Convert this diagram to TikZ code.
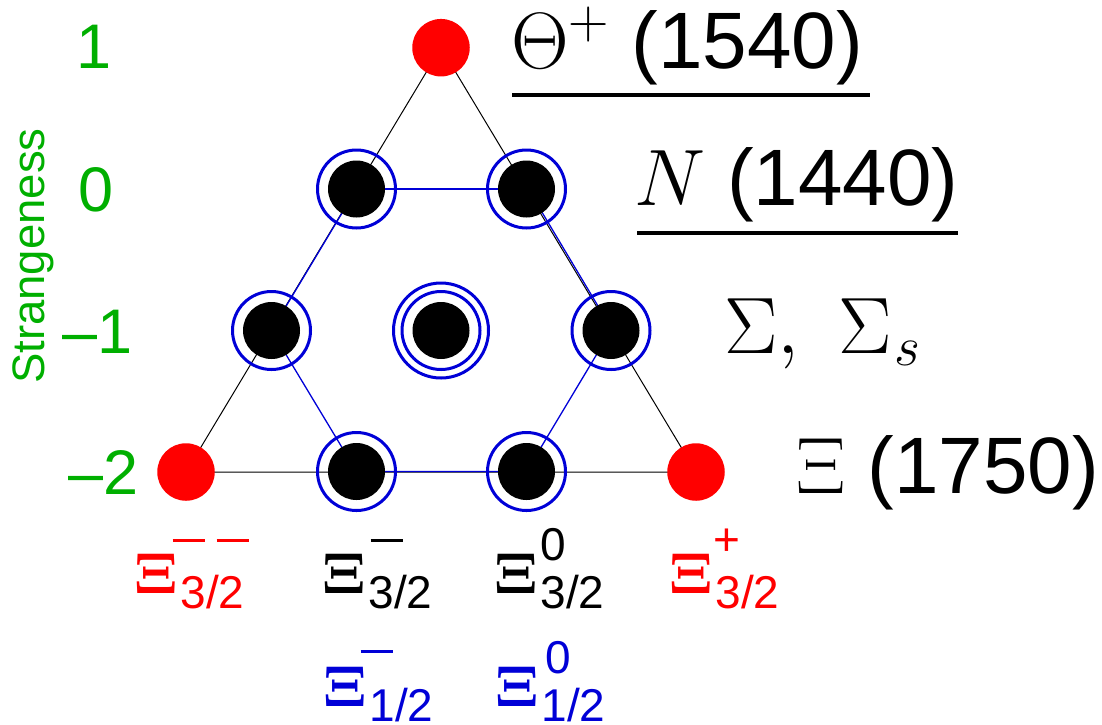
\RequirePackage{fix-cm}
\documentclass[tikz,border=0pt]{standalone}
\usepackage[no-math]{fontspec}
\setmainfont{Liberation Sans}
\usetikzlibrary{backgrounds}
\definecolor{sgreen}{RGB}{0,175,0}
\definecolor{rblue}{RGB}{0,0,215}
\newcommand\xisym{{\fontsize{58}{60}\selectfont$\mathbf{\Xi}$}}
\newcommand\scr[1]{{\fontsize{46}{48}\selectfont #1}}
% #1 kern after Xi, #2 superscript material, #3 subscript
\newcommand\xilab[3]{\xisym\kern#1\rlap{#2}\raisebox{-15pt}{\scr{#3}}}
\newcommand\mbar[1]{\rule[#1]{32pt}{3pt}}
\begin{document}
\begin{tikzpicture}[x=1pt,y=-1pt,
  every node/.style={inner sep=0pt,outer sep=0pt},
  reddot/.style={circle, fill=red, minimum size=57.5pt},
  blackdot/.style={circle, fill=black, minimum size=57pt},
  ring/.style={circle, draw=rblue, line width=3pt, minimum size=78pt},
  bigring/.style={ring, minimum size=95pt},
  tri/.style={draw=black, line width=1pt},
  hexl/.style={draw=rblue, line width=1.3pt},
  biglab/.style={font=\fontsize{80}{96}\selectfont, anchor=base west},
  snum/.style={text=sgreen, font=\fontsize{63}{70}\selectfont, anchor=base},
  xil/.style={anchor=base west}
]
\useasboundingbox (0,0) rectangle (1102,724);

% dots
\node[reddot] (th) at (441,47.7) {};
\node[ring] (sar) at (356.5,189) {};
\node[blackdot] (sa) at (356.5,189) {};
\node[ring] (sbr) at (526.5,189) {};
\node[blackdot] (sb) at (526.5,189) {};
\node[ring] (mar) at (271.5,330.5) {};
\node[blackdot] (ma) at (271.5,330.5) {};
\node[ring] (mcr) at (441,330.5) {};
\node[bigring] (mcrr) at (441,330.5) {};
\node[blackdot] (mc) at (441,330.5) {};
\node[ring] (mbr) at (611,330.5) {};
\node[blackdot] (mb) at (611,330.5) {};
\node[reddot] (xl) at (186,472) {};
\node[ring] (xar) at (356.5,471.5) {};
\node[blackdot] (xa) at (356.5,471.5) {};
\node[ring] (xbr) at (526.5,471.5) {};
\node[blackdot] (xb) at (526.5,471.5) {};
\node[reddot] (xr) at (696,472) {};

\begin{scope}[on background layer]
  \draw[tri] (th.center) -- (xl.center) -- (xr.center) -- cycle;
  \draw[hexl] (sa.center) -- (sb.center);
  \draw[hexl] ([xshift=1.6pt]sb.center) -- ([xshift=1.6pt]mb.center);
  \draw[hexl] (mb.center) -- (xb.center) -- (xa.center) -- (ma.center) -- (sa.center);
\end{scope}

% strangeness axis
\node[rotate=90, anchor=base, text=sgreen, font=\fontsize{45.5}{50}\selectfont] (slab) at (44,256) {Strangeness};
\node[snum] (s1) at (94,68) {1};
\node[snum] (s0) at (96,211) {0};
\node[snum] (sm1) at (98,353) {--1};
\node[snum] (sm2) at (104,494) {--2};

% multiplet labels
\node[biglab] (lth) at (511,68) {$\Theta^+$ (1540)};
\draw[line width=3.5pt] (512,95) -- (870,95);
\node[biglab] (lN) at (634,205) {$N$ (1440)};
\draw[line width=3.5pt] (637,233) -- (958,233);
\node[biglab] (lsig) at (724,353) {$\Sigma,\ \kern4pt\Sigma_{\kern2pt s}$};
\node[biglab] (lxi) at (796,493) {$\Xi$ (1750)};

% Xi labels
\node[xil, text=red] (q1) at (134,593) {\xilab{3pt}{\kern-8pt\mbar{51.5pt}\kern12pt\mbar{51.5pt}}{3/2}};
\node[xil, text=black] (q2) at (322,593) {\xilab{3pt}{\kern2pt\mbar{51.5pt}}{3/2}};
\node[xil, text=black] (q3) at (494,593) {\xilab{3pt}{\raisebox{33pt}{\scr{0}}}{3/2}};
\node[xil, text=red] (q4) at (669,593) {\xilab{3pt}{\kern-2pt\raisebox{38pt}{\scr{+}}}{3/2}};
\node[xil, text=rblue] (q5) at (323,706) {\xilab{3pt}{\kern-9pt\mbar{53.5pt}}{1/2}};
\node[xil, text=rblue] (q6) at (495,706) {\xilab{3pt}{\kern4pt\raisebox{33pt}{\scr{0}}}{1/2}};
\end{tikzpicture}
\end{document}
